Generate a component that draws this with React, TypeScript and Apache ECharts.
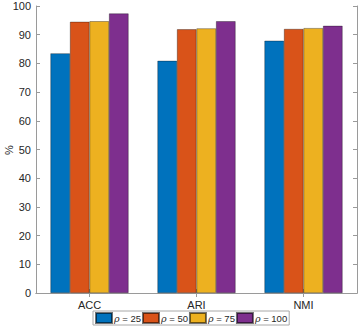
import React, { useEffect, useRef } from "react";
import * as echarts from "echarts";

const categories = ["ACC", "ARI", "NMI"];
const seriesNames = ["25", "50", "75", "100"];
const rho25 = [83.5, 80.9, 87.9];
const rho50 = [94.5, 91.9, 92.0];
const rho75 = [94.7, 92.2, 92.3];
const rho100 = [97.4, 94.7, 93.1];
const colors = ["#0072BD", "#D95319", "#EDB120", "#7E2F8E"];
const yTicks = [0, 10, 20, 30, 40, 50, 60, 70, 80, 90, 100];
const yLabel = "%";

export default function App() {
  const ref = useRef<HTMLDivElement>(null);
  useEffect(() => {
    if (!ref.current) return;
    const chart = echarts.init(ref.current, null, { renderer: "svg" });
    const data = [rho25, rho50, rho75, rho100];
    const font = "Liberation Sans, Arial, sans-serif";
    const axisLine = { show: true, lineStyle: { color: "#9a9a9a", width: 1 } };
    chart.setOption({
      animation: false,
      textStyle: { fontFamily: font },
      grid: { left: 36, top: 6, right: 3, bottom: 34, containLabel: false, outerBoundsMode: "none" },
      graphic: [
        {
          type: "text",
          x: 9,
          y: 150,
          rotation: Math.PI / 2,
          style: {
            text: yLabel,
            fill: "#262626",
            font: "11px Liberation Sans, Arial, sans-serif",
            textAlign: "center",
            textVerticalAlign: "middle",
          },
        },
      ],
      xAxis: [
        {
          type: "category",
          data: categories,
          axisLine,
          axisTick: { show: true, inside: true, alignWithLabel: true, length: 4, lineStyle: { color: "#9a9a9a" } },
          axisLabel: { color: "#262626", fontSize: 11, margin: 6, fontFamily: font },
        },
        {
          type: "category",
          data: categories,
          position: "top",
          axisLine,
          axisTick: { show: true, inside: true, alignWithLabel: true, length: 4, lineStyle: { color: "#9a9a9a" } },
          axisLabel: { show: false },
        },
      ],
      yAxis: [
        {
          type: "value",
          min: 0,
          max: 100,
          interval: 10,
          axisLine,
          axisTick: { show: true, inside: true, length: 4, lineStyle: { color: "#9a9a9a" } },
          axisLabel: {
            color: "#262626",
            fontSize: 11,
            margin: 5,
            fontFamily: font,
            formatter: (v: number) => (yTicks.includes(v) ? String(v) : ""),
          },
          splitLine: { show: false },
        },
        {
          type: "value",
          min: 0,
          max: 100,
          interval: 10,
          position: "right",
          axisLine,
          axisTick: { show: true, inside: true, length: 4, lineStyle: { color: "#9a9a9a" } },
          axisLabel: { show: false },
          splitLine: { show: false },
        },
      ],
      legend: {
        left: 93,
        top: 311,
        itemWidth: 16,
        itemHeight: 10,
        itemGap: 1,
        padding: [1, 2, 1, 2],
        borderColor: "#a8a8a8",
        borderWidth: 1,
        borderRadius: 0,
        textStyle: {
          color: "#262626",
          fontSize: 9.5,
          fontFamily: font,
          padding: [0, 0, 0, -3],
          rich: { i: { fontStyle: "italic", fontSize: 9.5, fontFamily: "DejaVu Serif, serif", color: "#262626" } },
        },
        formatter: (name: string) => `{i|ρ} = ${name.replace("rho", "")}`,
        data: seriesNames.map((n) => ({ name: "rho" + n, icon: "rect" })),
      },
      series: data.map((d, i) => ({
        name: "rho" + seriesNames[i],
        type: "bar",
        data: d,
        barGap: "0%",
        barCategoryGap: "27%",
        itemStyle: { color: colors[i], borderColor: "rgba(0,0,0,0.55)", borderWidth: 0.6 },
      })),
    });
    return () => chart.dispose();
  }, []);
  return (
    <div
      ref={ref}
      style={{ position: "fixed", left: 0, top: 0, width: 360, height: 327, background: "#fff" }}
    />
  );
}
